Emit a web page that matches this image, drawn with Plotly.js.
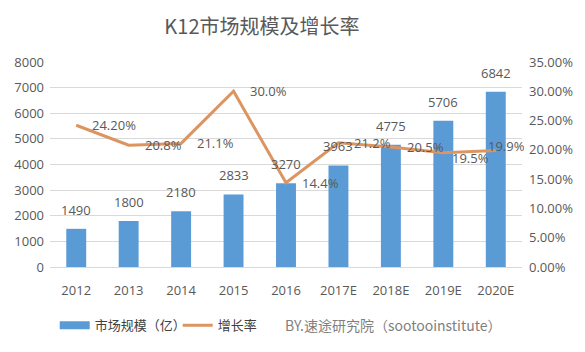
<!DOCTYPE html>
<html><head><meta charset="utf-8">
<script src="https://cdn.plot.ly/plotly-3.0.1.min.js"></script>
<style>html,body{margin:0;padding:0;background:#fff}#c{width:585px;height:352px}</style>
</head><body><div id="c"></div>
<script>
const categories = ["2012","2013","2014","2015","2016","2017E","2018E","2019E","2020E"];
const marketSize = [1490,1800,2180,2833,3270,3963,4775,5706,6842];
const growthRate = [24.2,20.8,21.1,30.0,14.4,21.2,20.5,19.5,19.9];
const growthLabels = ["24.20%","20.8%","21.1%","30.0%","14.4%","21.2%","20.5%","19.5%","19.9%"];
const leftTicks = [0,1000,2000,3000,4000,5000,6000,7000,8000];
const rightTicks = [0,5,10,15,20,25,30,35];

const grey = "#595959";
const latin = "Open Sans, Noto Sans CJK SC, sans-serif";
const cjk = "Noto Sans CJK SC, sans-serif";
const blue = "#5b9bd5";
const orange = "#dc9560";

const traces = [
  {type:"bar", x:categories, y:marketSize, name:"市场规模（亿）",
   marker:{color:blue}, showlegend:false, yaxis:"y", hoverinfo:"skip"},
  {type:"scatter", mode:"lines", x:[categories[0]], y:[null], name:"市场规模（亿）",
   line:{color:blue,width:8}, yaxis:"y", showlegend:true},
  {type:"scatter", mode:"lines", x:categories, y:growthRate, name:"增长率",
   line:{color:orange,width:3}, yaxis:"y2", showlegend:true}
];

// label placement tweaks (styling only)
const last = categories.length - 1;
function rateShift(i){
  if (i === last) return {xanchor:"center", xshift:11, yshift:4};
  if (i === last-1) return {xanchor:"left", xshift:7, yshift:-5};
  return {xanchor:"left", xshift:14, yshift:0};
}

const barLabels = categories.map((c,i)=>({
  x:i, y:marketSize[i], xref:"x", yref:"y", text:String(marketSize[i]),
  showarrow:false, xanchor:"center", yanchor:"middle", yshift:19,
  font:{family:latin,size:13,color:grey}
}));
const rateLabels = categories.map((c,i)=>Object.assign({
  x:i, y:growthRate[i], xref:"x", yref:"y2", text:growthLabels[i],
  showarrow:false, yanchor:"middle",
  font:{family:latin,size:13,color:grey}
}, rateShift(i)));

const layout = {
  width:585, height:352, margin:{l:50,r:63,t:62,b:76},
  paper_bgcolor:"#fff", plot_bgcolor:"#fff",
  title:{text:"K12市场规模及增长率", font:{family:cjk,size:20,color:grey},
         xref:"paper", x:0.449, xanchor:"center", y:0.922, yanchor:"middle"},
  font:{family:latin,color:grey,size:13},
  bargap:0.62, showlegend:true,
  xaxis:{type:"category", categoryorder:"array", categoryarray:categories, range:[-0.5, categories.length-0.5],
         tickfont:{size:13,color:grey}, showline:true, linecolor:"#d9d9d9",
         ticks:"", automargin:false, ticklabelstandoff:11},
  yaxis:{range:[0,8000], tickvals:leftTicks, showgrid:true, gridcolor:"#d9d9d9", zeroline:false,
         ticks:"", tickfont:{size:13,color:grey}, automargin:false, ticklabelstandoff:5},
  yaxis2:{range:[0,35], overlaying:"y", side:"right", tickvals:rightTicks,
          ticktext:rightTicks.map(v=>v.toFixed(2)+"%"), showgrid:false, zeroline:false,
          ticks:"", tickfont:{size:13,color:grey}, automargin:false, ticklabelstandoff:6},
  legend:{orientation:"h", x:0.01, y:-0.285, xanchor:"left", yanchor:"middle",
          font:{family:cjk,size:13,color:"#404040"}, traceorder:"normal",
          entrywidth:78, entrywidthmode:"pixels"},
  annotations:[...barLabels, ...rateLabels,
    {text:"BY.速途研究院（sootooinstitute）", xref:"paper", yref:"paper", x:0.494, y:-0.285,
     xanchor:"left", yanchor:"middle", showarrow:false, font:{family:cjk,size:14,color:"#7f7f7f"}}]
};
Plotly.newPlot("c", traces, layout, {displayModeBar:false, staticPlot:true});
</script></body></html>
